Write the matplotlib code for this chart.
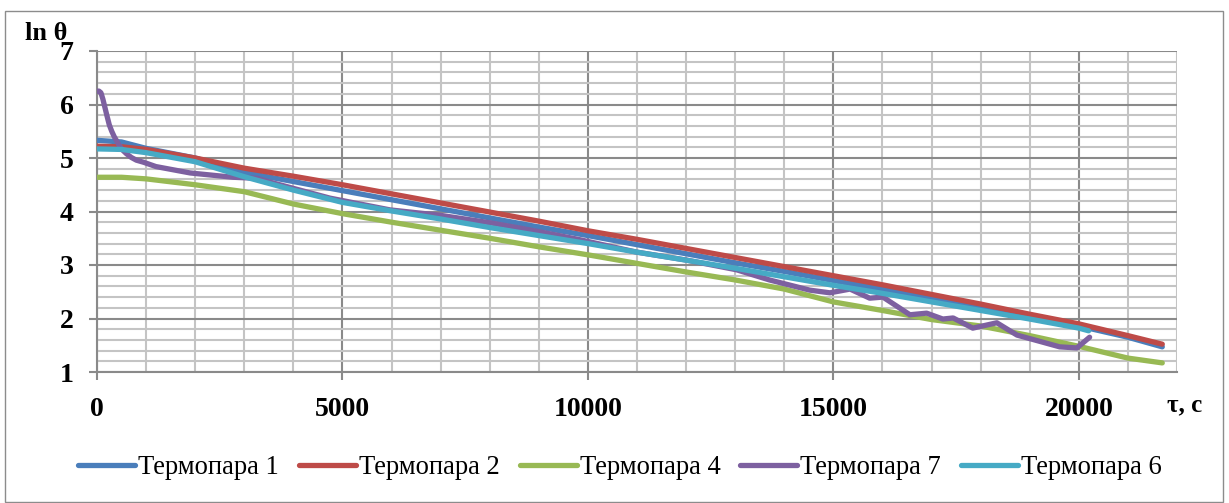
import matplotlib
matplotlib.use("Agg")
import matplotlib.pyplot as plt
from matplotlib.patches import Rectangle
from matplotlib.ticker import MultipleLocator

# ---- data ----
t_main = [0, 500, 1000, 2000, 3000, 4000, 5000, 6000, 7000, 8000, 9000, 10000,
          11000, 12000, 13000, 14000, 15000, 16000, 17000, 18000, 19000, 20000,
          21000, 21700]
tc1 = [5.33, 5.30, 5.18, 5.00, 4.73, 4.56, 4.39, 4.22, 4.05, 3.88, 3.71, 3.55,
       3.38, 3.21, 3.04, 2.88, 2.71, 2.55, 2.38, 2.21, 2.04, 1.86, 1.65, 1.47]
tc2 = [5.22, 5.21, 5.16, 5.00, 4.81, 4.66, 4.50, 4.33, 4.16, 3.99, 3.82, 3.64,
       3.48, 3.31, 3.14, 2.97, 2.80, 2.63, 2.45, 2.27, 2.08, 1.90, 1.68, 1.52]
tc4 = [4.64, 4.64, 4.61, 4.50, 4.37, 4.14, 3.96, 3.80, 3.65, 3.50, 3.34, 3.19,
       3.03, 2.87, 2.72, 2.55, 2.31, 2.15, 1.98, 1.86, 1.68, 1.48, 1.26, 1.17]

t_tc6 = [0, 500, 1000, 2000, 3000, 4000, 5000, 6000, 7000, 8000, 9000, 10000,
         11000, 12000, 13000, 14000, 15000, 16000, 17000, 18000, 19000, 20000,
         20200]
tc6 = [5.17, 5.16, 5.10, 4.93, 4.65, 4.40, 4.17, 4.01, 3.86, 3.70, 3.55, 3.40,
       3.24, 3.09, 2.94, 2.78, 2.62, 2.47, 2.31, 2.15, 1.99, 1.82, 1.77]

t_tc7 = [0, 40, 80, 120, 160, 200, 250, 300, 350, 400, 450, 520, 600, 700, 800,
         950, 1200, 1900, 2770, 3260, 3520, 4745, 5970, 6985, 8000, 8615, 9020,
         9800, 11000, 12020, 13030, 13700, 14520, 14930, 15340, 15740, 16010,
         16560, 16900, 17230, 17440, 17840, 18330, 18740, 19610, 19960, 20220]
tc7 = [6.25, 6.25, 6.22, 6.10, 5.95, 5.80, 5.62, 5.50, 5.40, 5.32, 5.24, 5.15,
       5.08, 5.01, 4.96, 4.92, 4.84, 4.72, 4.64, 4.62, 4.55, 4.25, 4.03, 3.93,
       3.79, 3.69, 3.62, 3.48, 3.24, 3.09, 2.91, 2.72, 2.53, 2.48, 2.55, 2.38,
       2.40, 2.07, 2.10, 1.99, 2.01, 1.82, 1.92, 1.69, 1.47, 1.45, 1.65]

labels = ["Термопара 1", "Термопара 2", "Термопара 4", "Термопара 7", "Термопара 6"]
colors = ["#4A7EBB", "#BE4B48", "#98B954", "#7D60A0", "#46AAC5"]

x_ticks = [0, 5000, 10000, 15000, 20000]
y_ticks = [1, 2, 3, 4, 5, 6, 7]

# ---- figure ----
W, H = 1229, 503
fig = plt.figure(figsize=(W / 100, H / 100), dpi=100)
fig.patch.set_facecolor("white")

# outer chart border
fig.patches.append(Rectangle((5 / W, 0.002), 1218 / W, 1 - 11 / H - 0.002,
                             transform=fig.transFigure, fill=False,
                             edgecolor="#8C8C8C", linewidth=1.0))

L, R, T, B = 97, 1177, 51, 372
ax = fig.add_axes([L / W, 1 - B / H, (R - L) / W, (B - T) / H])

serif = ["Liberation Serif", "DejaVu Serif"]

series = [(t_main, tc1), (t_main, tc2), (t_main, tc4), (t_tc7, tc7), (t_tc6, tc6)]
for (tx, ty), lab, col in zip(series, labels, colors):
    ax.plot(tx, ty, color=col, lw=3.8, label=lab, solid_capstyle="round",
            solid_joinstyle="round", zorder=3)

ax.set_xlim(0, 22000)
ax.set_ylim(1, 7)
ax.set_xticks(x_ticks)
ax.set_yticks(y_ticks)
ax.xaxis.set_minor_locator(MultipleLocator(1000))
ax.yaxis.set_minor_locator(MultipleLocator(0.2))
ax.grid(which="minor", color="#C4C4C4", linewidth=1.5, zorder=0)
ax.grid(which="major", color="#8A8A8A", linewidth=1.5, zorder=1)
ax.set_axisbelow(True)
ax.tick_params(which="minor", length=0)
ax.tick_params(which="major", length=6, width=1.5, color="#8A8A8A")
ax.tick_params(axis="y", pad=11)
ax.tick_params(axis="x", pad=12)
for sp in ["top", "right"]:
    ax.spines[sp].set_visible(False)
for sp in ["left", "bottom"]:
    ax.spines[sp].set_color("#8A8A8A")
    ax.spines[sp].set_linewidth(1.5)

for lbl in ax.get_xticklabels() + ax.get_yticklabels():
    lbl.set_fontfamily(serif)
    lbl.set_fontweight("bold")
    lbl.set_fontsize(20)

fig.text(25 / W, 1 - 34 / H, "ln θ", family=serif, fontweight="bold",
         fontsize=19, ha="left", va="center")
fig.text(1185 / W, 1 - 405 / H, "τ, c", family=serif, fontweight="bold",
         fontsize=18, ha="center", va="center")

leg = fig.legend(loc="center", bbox_to_anchor=(620 / W, 1 - 468 / H), ncol=5,
                 frameon=False, prop={"family": serif, "size": 19.1},
                 handlelength=2.15, handletextpad=0.11, columnspacing=0.75,
                 borderaxespad=0)

fig.savefig("out.png", dpi=100, facecolor="white")
